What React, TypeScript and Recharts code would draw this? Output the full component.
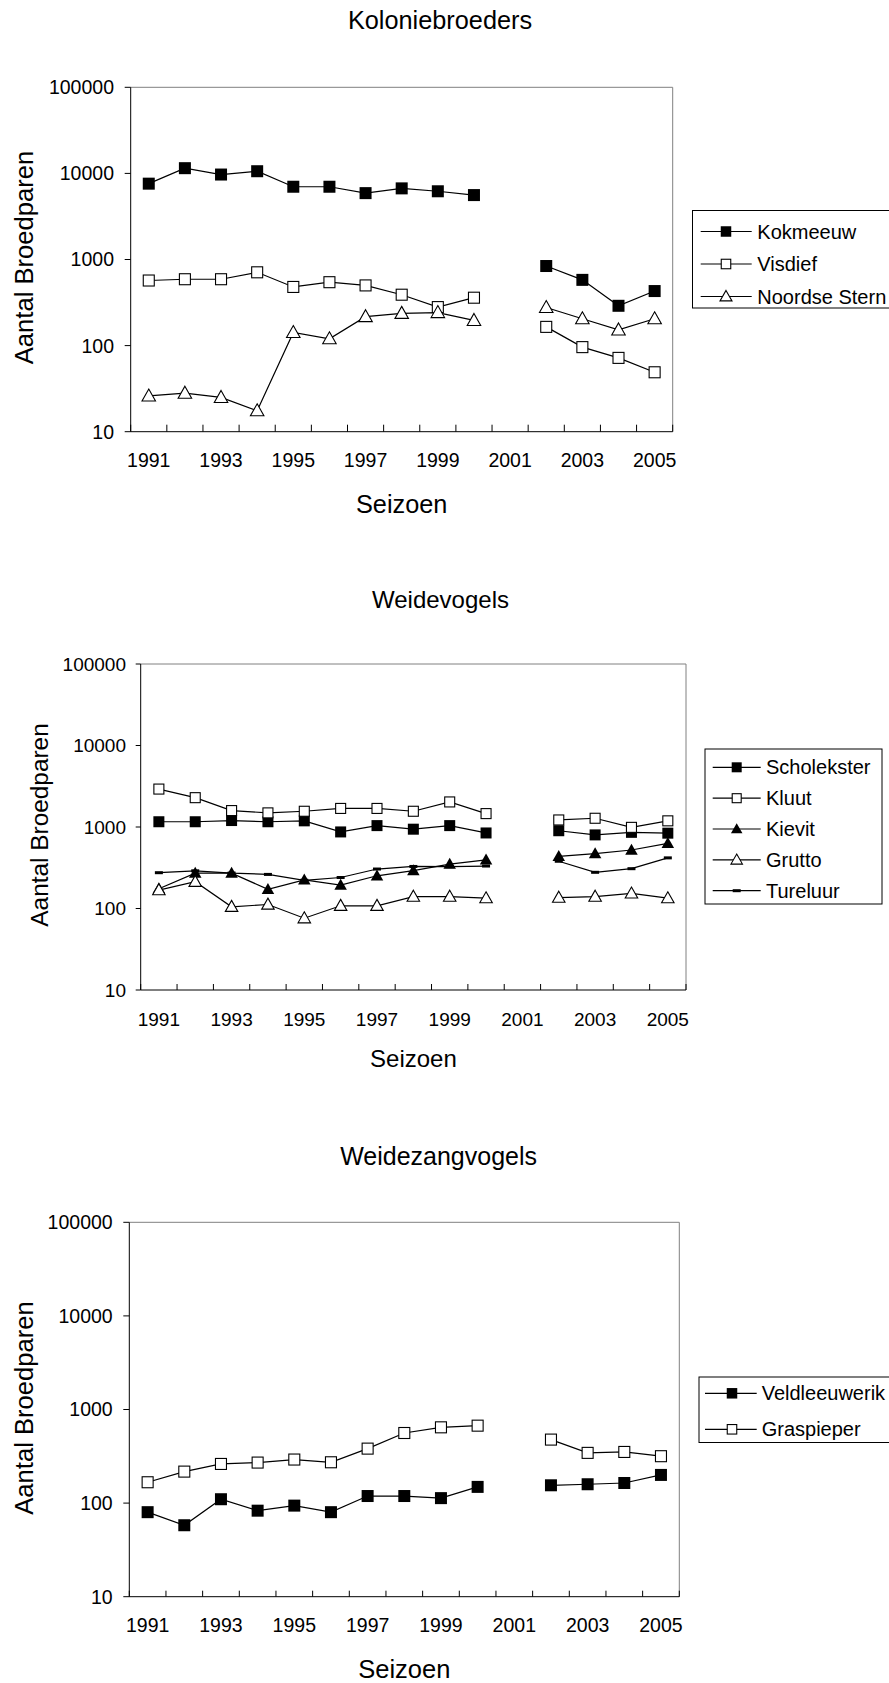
import React from 'react';
import { LineChart, Line, XAxis, YAxis, ReferenceLine } from 'recharts';

const FONT = '"Liberation Sans", Arial, Helvetica, sans-serif';

// ---------- data ----------
const years = [1991, 1992, 1993, 1994, 1995, 1996, 1997, 1998, 1999, 2000, 2001, 2002, 2003, 2004, 2005];
const yTicks = [10, 100, 1000, 10000, 100000];
const xLabelYears = [1991, 1993, 1995, 1997, 1999, 2001, 2003, 2005];
const xBoundaries = [1990.5, 1991.5, 1992.5, 1993.5, 1994.5, 1995.5, 1996.5, 1997.5, 1998.5, 1999.5, 2000.5, 2001.5, 2002.5, 2003.5, 2004.5, 2005.5];

// Koloniebroeders
const kokmeeuw = [7600, 11500, 9700, 10600, 7000, 7000, 5900, 6700, 6200, 5600, null, 840, 580, 290, 430];
const visdief = [570, 590, 590, 710, 480, 545, 500, 390, 280, 360, null, 165, 96, 72, 49];
const noordseStern = [26, 28, 25, 17.5, 142, 120, 217, 237, 242, 196, null, 277, 205, 152, 205];

// Weidevogels
const scholekster = [1160, 1160, 1200, 1160, 1190, 870, 1040, 940, 1040, 845, null, 900, 800, 860, 840];
const kluut = [2920, 2290, 1590, 1490, 1560, 1690, 1690, 1560, 2030, 1460, null, 1220, 1280, 990, 1190];
const kievit = [175, 272, 272, 172, 224, 194, 252, 292, 350, 394, null, 435, 472, 522, 630];
const grutto = [168, 213, 105, 112, 76, 108, 108, 140, 140, 134, null, 136, 140, 153, 134];
const tureluur = [275, 290, 272, 262, 222, 240, 305, 328, 326, 332, null, 380, 278, 308, 418];

// Weidezangvogels
const veldleeuwerik = [80, 58, 110, 83, 94, 80, 119, 119, 113, 149, null, 155, 159, 164, 200];
const graspieper = [167, 217, 262, 271, 292, 273, 382, 561, 645, 672, null, 477, 344, 352, 317];

type Kind = 'filledSquare' | 'openSquare' | 'filledTriangle' | 'openTriangle' | 'dash';
type Series = { key: string; name: string; kind: Kind; values: (number | null)[] };

const series1: Series[] = [
  { key: 'kokmeeuw', name: 'Kokmeeuw', kind: 'filledSquare', values: kokmeeuw },
  { key: 'visdief', name: 'Visdief', kind: 'openSquare', values: visdief },
  { key: 'noordseStern', name: 'Noordse Stern', kind: 'openTriangle', values: noordseStern },
];
const series2: Series[] = [
  { key: 'scholekster', name: 'Scholekster', kind: 'filledSquare', values: scholekster },
  { key: 'kluut', name: 'Kluut', kind: 'openSquare', values: kluut },
  { key: 'kievit', name: 'Kievit', kind: 'filledTriangle', values: kievit },
  { key: 'grutto', name: 'Grutto', kind: 'openTriangle', values: grutto },
  { key: 'tureluur', name: 'Tureluur', kind: 'dash', values: tureluur },
];
const series3: Series[] = [
  { key: 'veldleeuwerik', name: 'Veldleeuwerik', kind: 'filledSquare', values: veldleeuwerik },
  { key: 'graspieper', name: 'Graspieper', kind: 'openSquare', values: graspieper },
];

// ---------- markers ----------
function Marker({ kind, cx, cy, size }: { kind: Kind; cx: number; cy: number; size: number }) {
  const h = size / 2;
  switch (kind) {
    case 'filledSquare':
      return <rect x={cx - h} y={cy - h} width={size} height={size} fill="#000" />;
    case 'openSquare':
      return <rect x={cx - h + 0.5} y={cy - h + 0.5} width={size - 1} height={size - 1} fill="#fff" stroke="#000" strokeWidth={1.1} />;
    case 'filledTriangle': {
      const w = size + 1.5;
      const th = size;
      return <polygon points={`${cx},${cy - th * 0.58} ${cx + w / 2},${cy + th * 0.42} ${cx - w / 2},${cy + th * 0.42}`} fill="#000" />;
    }
    case 'openTriangle': {
      const w = size + 1.5;
      const th = size;
      return <polygon points={`${cx},${cy - th * 0.58} ${cx + w / 2},${cy + th * 0.42} ${cx - w / 2},${cy + th * 0.42}`} fill="#fff" stroke="#000" strokeWidth={1.1} strokeLinejoin="miter" />;
    }
    case 'dash':
      return <rect x={cx - 4} y={cy - 1.5} width={8} height={3} fill="#000" />;
  }
  return null;
}

type Cfg = {
  top: number;
  height: number;
  margin: { top: number; right: number; bottom: number; left: number };
  yTickSize: number;
  yTickMargin: number;
  xTickLen: number;
  tickFont: number;
  markerSize: number;
  series: Series[];
};

const XTick = (props: any) => {
  const { x, y, payload, tickLen, fontSize } = props;
  const v = payload.value;
  if (Math.abs(v % 1) > 0.01) {
    return <line x1={x} x2={x} y1={y} y2={y - tickLen} stroke="#000" strokeWidth={1} />;
  }
  return (
    <text x={x} y={y + 35.5} textAnchor="middle" fontSize={fontSize} fontFamily={FONT} fill="#000">
      {v}
    </text>
  );
};

function BirdChart({ cfg }: { cfg: Cfg }) {
  const data = years.map((yr, i) => {
    const row: any = { year: yr };
    cfg.series.forEach((s) => {
      row[s.key] = s.values[i];
    });
    return row;
  });
  const allXTicks = [...xBoundaries, ...xLabelYears].sort((a, b) => a - b);
  return (
    <div style={{ position: 'absolute', left: 0, top: cfg.top, width: 889, height: cfg.height }}>
      <LineChart width={889} height={cfg.height} data={data} margin={cfg.margin}>
        <ReferenceLine y={100000} stroke="#808080" strokeWidth={1} ifOverflow="visible" />
        <ReferenceLine x={2005.5} stroke="#808080" strokeWidth={1} ifOverflow="visible" />
        <XAxis
          dataKey="year"
          type="number"
          domain={[1990.5, 2005.5]}
          ticks={allXTicks}
          interval={0}
          allowDataOverflow
          height={30}
          tickSize={0}
          tickMargin={0}
          tickLine={false}
          axisLine={{ stroke: '#000', strokeWidth: 1 }}
          tick={(p: any) => <XTick {...p} tickLen={cfg.xTickLen} fontSize={cfg.tickFont} />}
        />
        <YAxis
          type="number"
          scale="log"
          domain={[10, 100000]}
          ticks={yTicks}
          interval={0}
          allowDataOverflow
          width={60}
          tickSize={cfg.yTickSize}
          tickMargin={cfg.yTickMargin}
          tickLine={{ stroke: '#000', strokeWidth: 1 }}
          axisLine={{ stroke: '#000', strokeWidth: 1 }}
          tick={{ fontSize: cfg.tickFont, fill: '#000', fontFamily: FONT }}
          tickFormatter={(v: number) => String(v)}
        />
        {cfg.series.map((s) => (
          <Line
            key={s.key}
            type="linear"
            dataKey={s.key}
            name={s.name}
            stroke="#000"
            strokeWidth={1.2}
            isAnimationActive={false}
            connectNulls={false}
            activeDot={false}
            dot={(p: any) =>
              p.cx == null || p.cy == null || p.value == null ? (
                <g key={`d-${s.key}-${p.index}`} />
              ) : (
                <g key={`d-${s.key}-${p.index}`}>
                  <Marker kind={s.kind} cx={p.cx} cy={p.cy} size={cfg.markerSize} />
                </g>
              )
            }
          />
        ))}
      </LineChart>
    </div>
  );
}

const cfg1: Cfg = {
  top: 0,
  height: 540,
  margin: { top: 87.3, right: 216.3, bottom: 78.3, left: 70.7 },
  yTickSize: 6,
  yTickMargin: 10.7,
  xTickLen: 7,
  tickFont: 19.5,
  markerSize: 12,
  series: series1,
};
const cfg2: Cfg = {
  top: 560,
  height: 540,
  margin: { top: 104, right: 203, bottom: 80, left: 80.7 },
  yTickSize: 5,
  yTickMargin: 9.7,
  xTickLen: 6,
  tickFont: 19,
  markerSize: 11,
  series: series2,
};
const cfg3: Cfg = {
  top: 1120,
  height: 563,
  margin: { top: 102.3, right: 209.7, bottom: 56.3, left: 69.3 },
  yTickSize: 6,
  yTickMargin: 10.6,
  xTickLen: 6,
  tickFont: 19.5,
  markerSize: 12,
  series: series3,
};

// ---------- overlay text & legends ----------
type LegendCfg = {
  x: number;
  y: number;
  w: number;
  h: number;
  rows: number[];
  lineX1: number;
  lineX2: number;
  markerX: number;
  textX: number;
  markerSize: number;
  series: Series[];
};

function LegendBox({ l }: { l: LegendCfg }) {
  return (
    <g>
      <rect x={l.x + 0.5} y={l.y + 0.5} width={l.w} height={l.h} fill="#fff" stroke="#000" strokeWidth={1} />
      {l.series.map((s, i) => (
        <g key={s.key}>
          <line x1={l.lineX1} x2={l.lineX2} y1={l.rows[i]} y2={l.rows[i]} stroke="#000" strokeWidth={1.2} />
          <Marker kind={s.kind} cx={l.markerX} cy={l.rows[i]} size={l.markerSize} />
          <text x={l.textX} y={l.rows[i]} dominantBaseline="central" fontSize={20} fontFamily={FONT} fill="#000">
            {s.name}
          </text>
        </g>
      ))}
    </g>
  );
}

const legend1: LegendCfg = {
  x: 692,
  y: 210,
  w: 205,
  h: 97.5,
  rows: [231.5, 264, 296.5],
  lineX1: 700.7,
  lineX2: 751.7,
  markerX: 726,
  textX: 757.3,
  markerSize: 10.5,
  series: series1,
};
const legend2: LegendCfg = {
  x: 704.5,
  y: 748.5,
  w: 177,
  h: 155,
  rows: [767.3, 798.2, 829, 859.9, 890.7],
  lineX1: 712.7,
  lineX2: 760.7,
  markerX: 736.7,
  textX: 766,
  markerSize: 10,
  series: series2,
};
const legend3: LegendCfg = {
  x: 698.5,
  y: 1376.5,
  w: 200,
  h: 65.5,
  rows: [1393.3, 1429.3],
  lineX1: 705,
  lineX2: 756.7,
  markerX: 732,
  textX: 761.7,
  markerSize: 10.5,
  series: series3,
};

const titles = [
  { text: 'Koloniebroeders', x: 440, y: 19.5, size: 25.3 },
  { text: 'Weidevogels', x: 440.5, y: 599, size: 24 },
  { text: 'Weidezangvogels', x: 438.6, y: 1156.3, size: 25 },
];
const xTitles = [
  { text: 'Seizoen', x: 401.7, y: 503.6, size: 25.3 },
  { text: 'Seizoen', x: 413.4, y: 1058, size: 24 },
  { text: 'Seizoen', x: 404.3, y: 1669, size: 25.5 },
];
const yTitles = [
  { text: 'Aantal Broedparen', x: 23.6, y: 257.5, size: 25.6 },
  { text: 'Aantal Broedparen', x: 39.7, y: 825, size: 24.4 },
  { text: 'Aantal Broedparen', x: 23.6, y: 1408, size: 25.6 },
];

export default function App() {
  return (
    <div style={{ position: 'absolute', left: 0, top: 0, width: 889, height: 1683, background: '#fff', overflow: 'hidden' }}>
      <BirdChart cfg={cfg1} />
      <BirdChart cfg={cfg2} />
      <BirdChart cfg={cfg3} />
      <svg width={889} height={1683} style={{ position: 'absolute', left: 0, top: 0, pointerEvents: 'none' }}>
        {titles.map((t, i) => (
          <text key={'t' + i} x={t.x} y={t.y} textAnchor="middle" dominantBaseline="central" fontSize={t.size} fontFamily={FONT} fill="#000">
            {t.text}
          </text>
        ))}
        {xTitles.map((t, i) => (
          <text key={'x' + i} x={t.x} y={t.y} textAnchor="middle" dominantBaseline="central" fontSize={t.size} fontFamily={FONT} fill="#000">
            {t.text}
          </text>
        ))}
        {yTitles.map((t, i) => (
          <text
            key={'y' + i}
            x={t.x}
            y={t.y}
            textAnchor="middle"
            dominantBaseline="central"
            fontSize={t.size}
            fontFamily={FONT}
            fill="#000"
            transform={`rotate(-90 ${t.x} ${t.y})`}
          >
            {t.text}
          </text>
        ))}
        <LegendBox l={legend1} />
        <LegendBox l={legend2} />
        <LegendBox l={legend3} />
      </svg>
    </div>
  );
}
